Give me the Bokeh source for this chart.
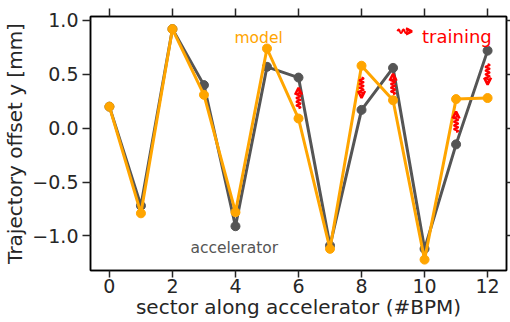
import numpy as np
from bokeh.plotting import figure
from bokeh.models import Range1d, LinearAxis, FixedTicker, Arrow, OpenHead, ColumnDataSource, CustomLabelingPolicy
from bokeh.core.properties import value
from bokeh.embed import file_html
from bokeh.resources import INLINE

sectors = list(range(13))
accelerator = [0.20, -0.72, 0.92, 0.40, -0.91, 0.57, 0.47, -1.09, 0.17, 0.56, -1.12, -0.15, 0.72]
model = [0.20, -0.79, 0.92, 0.31, -0.78, 0.74, 0.09, -1.12, 0.58, 0.26, -1.22, 0.27, 0.28]
train_x = [6, 8, 9, 11, 12]
train_dir = [1, -1, 1, 1, -1]
x_ticks = [0, 2, 4, 6, 8, 10, 12]
y_ticks = [-1.0, -0.5, 0.0, 0.5, 1.0]
y_tick_labels = ["\u22121.0", "\u22120.5", "0.0", "0.5", "1.0"]

FONT = "DejaVu Sans"
TXT = "#262626"
GREY = "#555555"
ORANGE = "#FFA500"
RED = "#FF0000"

p = figure(width=510, height=322, output_backend="svg", toolbar_location=None,
           x_range=Range1d(-0.6, 12.6), y_range=Range1d(-1.321, 1.037),
           min_border_left=90, min_border_top=16, min_border_right=4, min_border_bottom=52)
p.grid.visible = False
p.outline_line_color = "black"
p.outline_line_width = 1.5
p.background_fill_color = "white"
p.border_fill_color = "white"

def style(ax):
    ax.axis_line_color = "black"
    ax.axis_line_width = 1.5
    ax.major_tick_line_color = TXT
    ax.major_tick_line_width = 1.5
    ax.minor_tick_line_color = None
    ax.major_tick_in = 0
    ax.major_label_text_font = FONT
    ax.major_label_text_color = TXT
    ax.major_label_text_font_size = "19px"
    ax.axis_label_text_font = FONT
    ax.axis_label_text_color = TXT
    ax.axis_label_text_font_size = "20px"
    ax.axis_label_text_font_style = "normal"

xa = p.xaxis[0]
style(xa)
xa.ticker = FixedTicker(ticks=x_ticks)
xa.major_tick_out = 7
xa.major_label_standoff = 1
xa.axis_label = "sector along accelerator (#BPM)"
xa.axis_label_standoff = -1

ya = p.yaxis[0]
style(ya)
ya.ticker = FixedTicker(ticks=y_ticks)
ya.major_label_overrides = {t: l for t, l in zip(y_ticks, y_tick_labels)}
ya.major_tick_out = 8
ya.major_label_standoff = 4
ya.axis_label = "Trajectory offset y [mm]"
ya.axis_label_standoff = 2

hide = CustomLabelingPolicy(code="for (const i of indices) { indices.unset(i) }\nreturn indices")

top = LinearAxis(ticker=FixedTicker(ticks=x_ticks))
style(top)
top.major_tick_out = 8
top.major_label_text_font_size = "0px"
top.major_label_standoff = 0
top.major_label_policy = hide
p.add_layout(top, "above")

right = LinearAxis(ticker=FixedTicker(ticks=y_ticks))
style(right)
right.major_tick_out = 4
right.major_label_text_font_size = "0px"
right.major_label_standoff = 0
right.major_label_policy = hide
p.add_layout(right, "right")

src = ColumnDataSource(dict(x=sectors, acc=accelerator, mod=model))
p.line("x", "acc", source=src, line_color=GREY, line_width=3)
p.scatter("x", "acc", source=src, size=9, fill_color=GREY, line_color=GREY)
p.line("x", "mod", source=src, line_color=ORANGE, line_width=3)
p.scatter("x", "mod", source=src, size=9, fill_color=ORANGE, line_color=ORANGE)

# training arrows (squiggly)
L = 0.19
for xi, d in zip(train_x, train_dir):
    c = 0.5 * (model[xi] + accelerator[xi])
    y0 = c - d * L / 2
    y1 = c + d * L / 2
    ls = 0.82 * L
    t = np.linspace(0, 1, 80)
    xs = xi + 0.065 * np.sin(2 * np.pi * 4.5 * t)
    ys = y0 + d * ls * t
    p.line(xs, ys, line_color=RED, line_width=2)
    p.add_layout(Arrow(end=OpenHead(size=7, line_color=RED, line_width=2.5),
                       x_start=xi, y_start=y0 + d * ls, x_end=xi, y_end=y1,
                       line_color=RED, line_width=2))

# legend-style squiggly arrow next to "training"
lx0, lx1, ly = 9.14, 9.60, 0.90
t = np.linspace(0, 1, 50)
p.line(lx0 + (lx1 - lx0 - 0.08) * t, ly + 0.016 * np.sin(2 * np.pi * 2.5 * t),
       line_color=RED, line_width=2)
p.add_layout(Arrow(end=OpenHead(size=6, line_color=RED, line_width=2.5),
                   x_start=lx1 - 0.08, y_start=ly, x_end=lx1, y_end=ly,
                   line_color=RED, line_width=2))

p.text(x=[3.97], y=[0.837], text=["model"], text_color=ORANGE, text_font=value(FONT),
       text_font_size="15.5px", text_align="left", text_baseline="alphabetic")
p.text(x=[2.57], y=[-1.116], text=["accelerator"], text_color=GREY, text_font=value(FONT),
       text_font_size="15.5px", text_align="left", text_baseline="alphabetic")
p.text(x=[9.92], y=[0.847], text=["training"], text_color=RED, text_font=value(FONT),
       text_font_size="18px", text_align="left", text_baseline="alphabetic")

open("out.html", "w").write(file_html(p, INLINE))
